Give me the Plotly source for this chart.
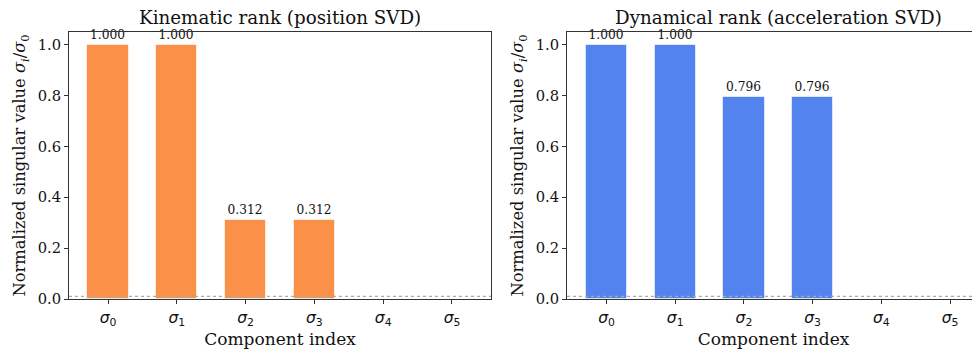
import plotly.graph_objects as go

components = [0, 1, 2, 3, 4, 5]
tick_labels = ["<i>σ</i><sub>0</sub>", "<i>σ</i><sub>1</sub>", "<i>σ</i><sub>2</sub>",
               "<i>σ</i><sub>3</sub>", "<i>σ</i><sub>4</sub>", "<i>σ</i><sub>5</sub>"]
kinematic = [1.000, 1.000, 0.312, 0.312, 0.0, 0.0]
dynamical = [1.000, 1.000, 0.796, 0.796, 0.0, 0.0]
threshold = 0.01
titles = ["Kinematic rank (position SVD)", "Dynamical rank (acceleration SVD)"]

FONT = "DejaVu Serif"
ORANGE = "#FB9048"
BLUE = "#5383EE"

# page body has an 8px margin, so the figure is sized to fit in the 980x349 window
W, H = 972, 341

def labels(vals):
    return [f"{v:.3f}" if v > threshold else "" for v in vals]

fig = go.Figure()
for i, (vals, col) in enumerate([(kinematic, ORANGE), (dynamical, BLUE)]):
    xa = "x" if i == 0 else "x2"
    ya = "y" if i == 0 else "y2"
    fig.add_trace(go.Bar(
        x=components, y=vals, width=0.6, xaxis=xa, yaxis=ya,
        marker=dict(color=col, line=dict(color="rgba(255,255,255,0.6)", width=1)),
        text=labels(vals), textposition="outside", cliponaxis=False,
        textfont=dict(family=FONT, size=12.2, color="#111"),
        constraintext="none", showlegend=False, hoverinfo="x+y",
    ))

ydom = [50 / H, (H - 24) / H]
xdom1 = [61 / W, 483 / W]
xdom2 = [559 / W, 1.0]
axis_common = dict(showline=True, linecolor="#333", linewidth=1, ticks="outside",
                   ticklen=4, tickcolor="#333", showgrid=False, zeroline=False)
yfont = dict(family=FONT, size=14.7, color="#111")
xfont = dict(family="DejaVu Sans", size=15.5, color="#111")
ytitle = "Normalized singular value <i>σ</i><sub><i>i</i></sub>/<i>σ</i><sub>0</sub>"

fig.update_layout(
    width=W, height=H, margin=dict(l=0, r=0, t=0, b=0, autoexpand=False),
    plot_bgcolor="white", paper_bgcolor="white", bargap=0,
    font=dict(family=FONT, color="#111"),
    xaxis=dict(domain=xdom1, range=[-0.567, 5.567], tickvals=components,
               ticktext=tick_labels, mirror=True, anchor="y", tickfont=xfont,
               title=dict(text="Component index", font=dict(family=FONT, size=17), standoff=3),
               **axis_common),
    yaxis=dict(domain=ydom, range=[0, 1.05], tickvals=[0, 0.2, 0.4, 0.6, 0.8, 1.0],
               tickformat=".1f", mirror=True, anchor="x", tickfont=yfont,
               title=dict(text=ytitle, font=dict(family=FONT, size=16.3), standoff=7),
               **axis_common),
    xaxis2=dict(domain=xdom2, range=[-0.575, 5.435], tickvals=components,
                ticktext=tick_labels, mirror=True, anchor="y2", tickfont=xfont,
                title=dict(text="Component index", font=dict(family=FONT, size=17), standoff=3),
                **axis_common),
    yaxis2=dict(domain=ydom, range=[0, 1.05], tickvals=[0, 0.2, 0.4, 0.6, 0.8, 1.0],
                tickformat=".1f", mirror=False, anchor="x2", tickfont=yfont,
                title=dict(text=ytitle, font=dict(family=FONT, size=16.3), standoff=7),
                **axis_common),
)

for xr, yr in [("x domain", "y"), ("x2 domain", "y2")]:
    fig.add_shape(type="line", xref=xr, yref=yr, x0=0, x1=1, y0=threshold, y1=threshold,
                  line=dict(color="#aaaaaa", width=1.3, dash="dot"), layer="above")

centers = [272 / W, 770 / W]
for c, t in zip(centers, titles):
    fig.add_annotation(text=t, xref="paper", yref="paper", x=c, y=ydom[1], yshift=2,
                       xanchor="center", yanchor="bottom", showarrow=False,
                       font=dict(family=FONT, size=18.3, color="#111"))

fig.write_html("out.html")
